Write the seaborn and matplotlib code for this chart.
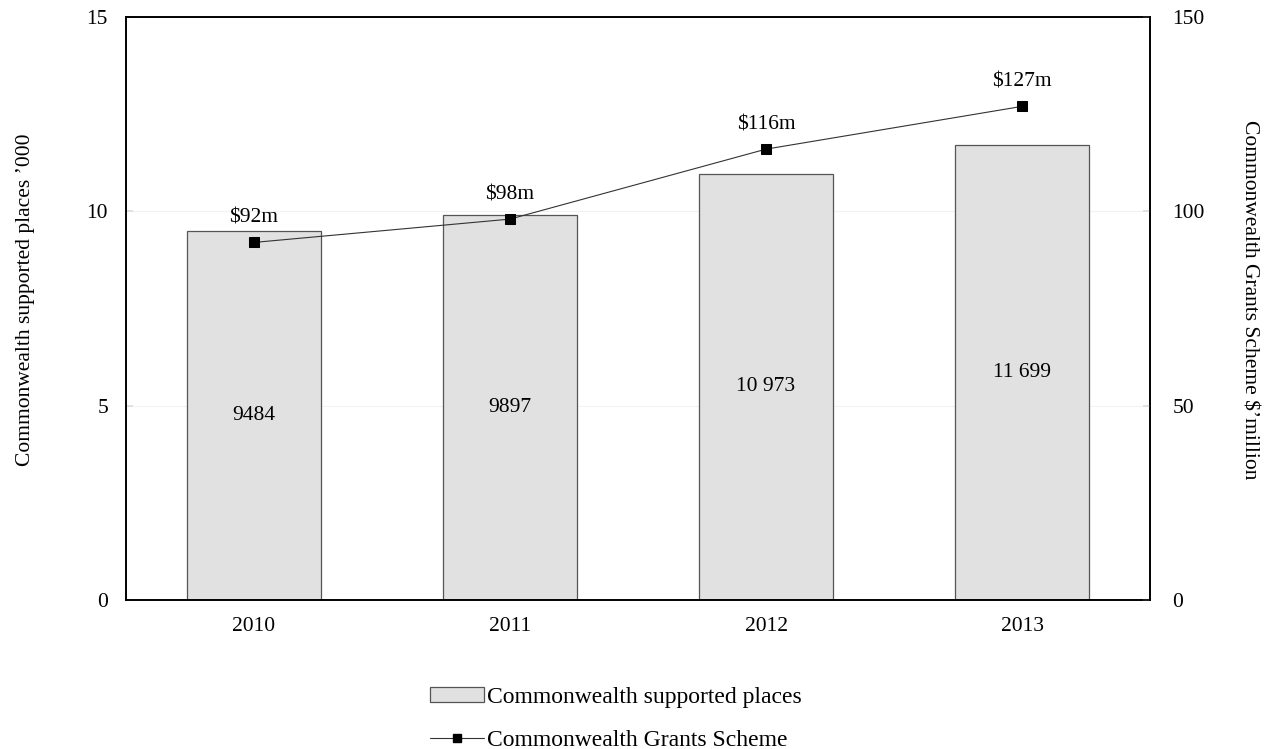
import matplotlib
matplotlib.use("Agg")
import matplotlib.pyplot as plt
import seaborn as sns
import pandas as pd
import numpy as np
from matplotlib.patches import Patch
from matplotlib.lines import Line2D

years = ["2010", "2011", "2012", "2013"]
places_thousand = [9.484, 9.897, 10.973, 11.699]
places_labels = ["9484", "9897", "10 973", "11 699"]
grants_million = [92, 98, 116, 127]
grants_labels = ["$92m", "$98m", "$116m", "$127m"]

sns.set_theme(style="white")
plt.rcParams["font.family"] = ["Liberation Serif", "DejaVu Serif"]
plt.rcParams["text.color"] = "black"
plt.rcParams["axes.labelcolor"] = "black"
plt.rcParams["xtick.labelcolor"] = "black"
plt.rcParams["ytick.labelcolor"] = "black"

FS = 15.5

df = pd.DataFrame({"year": years, "places": places_thousand,
                   "grants": grants_million, "pos": np.arange(len(years))})

fig = plt.figure(figsize=(12.73, 7.49), dpi=100)
ax = fig.add_axes([126 / 1273, 1 - 600 / 749, 1024 / 1273, 583 / 749])

sns.barplot(data=df, x="year", y="places", ax=ax, color="#e1e1e1",
            edgecolor="#555555", linewidth=0.9, width=0.525, saturation=1)
ax.set_ylim(0, 15)
ax.set_xlim(-0.5, 3.5)
ax.set_yticks([0, 5, 10, 15])
ax.yaxis.grid(True, color="#f2f2f2", linewidth=0.8)
ax.set_axisbelow(True)
ax.set_xlabel("")

# category boundaries carry the tick marks, the year labels sit between them
ax.set_xticks([0.5, 1.5, 2.5], minor=False)
ax.set_xticklabels([])
ax.tick_params(axis="x", which="major", direction="in", length=5, color="#aaaaaa", width=1.2)
ax.set_xticks([0, 1, 2, 3], minor=True)
ax.set_xticklabels(years, minor=True)
ax.tick_params(axis="x", which="minor", length=0, pad=12, labelsize=FS)
ax.tick_params(axis="y", direction="in", length=5, color="#dddddd", pad=13, labelsize=FS)

ax.set_ylabel("Commonwealth supported places \u2019000", fontsize=FS)
ax.yaxis.label.set(ha="center", va="center", rotation_mode="anchor")
ax.yaxis.set_label_coords(-0.0986, 0.515)

for i, (v, t) in enumerate(zip(places_thousand, places_labels)):
    ax.text(i, v / 2, t, ha="center", va="center", fontsize=FS)

for s in ax.spines.values():
    s.set_color("black")
    s.set_linewidth(1.2)

ax2 = ax.twinx()
sns.lineplot(data=df, x="pos", y="grants", ax=ax2, color="#333333", linewidth=0.8,
             marker="s", markersize=7, markerfacecolor="black", markeredgecolor="black")
ax2.set_ylim(0, 150)
ax2.set_xlim(-0.5, 3.5)
ax2.set_yticks([0, 50, 100, 150])
ax2.tick_params(axis="y", direction="in", length=5, color="#dddddd", pad=16, labelsize=FS)
ax2.set_xlabel("")
ax2.set_ylabel("Commonwealth Grants Scheme $\u2019million", fontsize=FS, rotation=270)
ax2.yaxis.label.set(ha="center", va="center", rotation_mode="anchor")
ax2.yaxis.set_label_coords(1.0966, 0.515)
for s in ax2.spines.values():
    s.set_color("black")
    s.set_linewidth(1.2)

for i, (v, t) in enumerate(zip(grants_million, grants_labels)):
    ax2.annotate(t, (i, v), xytext=(0, 14), textcoords="offset points",
                 ha="center", va="baseline", fontsize=FS)

handles = [
    Patch(facecolor="#e1e1e1", edgecolor="#555555", linewidth=0.9),
    Line2D([0], [0], color="#333333", linewidth=0.8, marker="s", markersize=6,
           markerfacecolor="black", markeredgecolor="black"),
]
fig.legend(handles, ["Commonwealth supported places", "Commonwealth Grants Scheme"],
           loc="center", bbox_to_anchor=(616 / 1273, 1 - 719 / 749), frameon=False,
           fontsize=17, handlelength=2.3, handleheight=0.6, handletextpad=0.13,
           labelspacing=0.95)

fig.savefig("out.png", dpi=100)
